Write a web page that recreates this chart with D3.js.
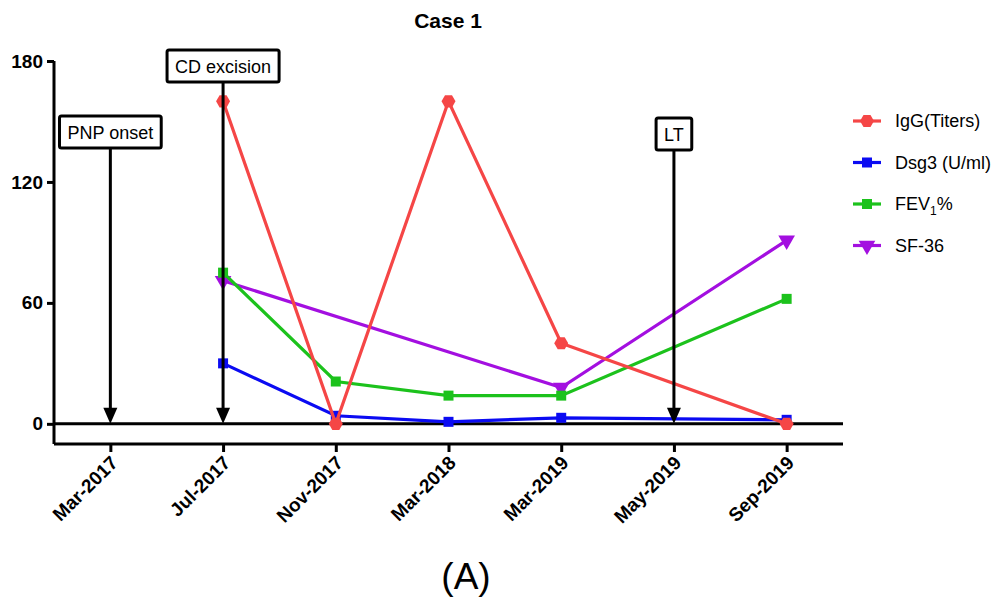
<!DOCTYPE html>
<html>
<head>
<meta charset="utf-8">
<script src="https://cdn.jsdelivr.net/npm/d3@7"></script>
<style>
  body { margin: 0; background: #fff; }
  text { font-family: "Liberation Sans", Arial, sans-serif; }
</style>
</head>
<body>
<div id="chart"></div>
<script>
// categories on the x axis
const months = ["Mar-2017", "Jul-2017", "Nov-2017", "Mar-2018", "Mar-2019", "May-2019", "Sep-2019"];
// series values (null = no measurement)
const igg  = [null, 160, 0, 160, 40, null, 0];
const dsg3 = [null, 30, 4, 1, 3, null, 2];
const fev1 = [null, 75, 21, 14, 14, null, 62];
const sf36 = [null, 71, null, null, 18, null, 91];
const yTicks = [0, 60, 120, 180];
// clinical events
const events = [
    { month: "Mar-2017", label: "PNP onset", top: 148 },
    { month: "Jul-2017", label: "CD excision", top: 82 },
    { month: "May-2019", label: "LT", top: 150 }
];

const series = [
    { name: "SF-36", values: sf36, color: "#a30fe0", shape: "tri" },
    { name: "FEV1%", values: fev1, color: "#1cc21c", shape: "square" },
    { name: "Dsg3 (U/ml)", values: dsg3, color: "#0b0bf2", shape: "square" },
    { name: "IgG(Titers)", values: igg, color: "#f54646", shape: "hex" }
];

const width = 995, height = 600;
const svg = d3.select("#chart").append("svg")
    .attr("width", width)
    .attr("height", height);

const x = d3.scalePoint()
    .domain(months)
    .range([54, 843])
    .padding(0.5);

const y = d3.scaleLinear()
    .domain([-10, 180])
    .range([444, 61]);

// title
svg.append("text")
    .attr("x", 448).attr("y", 28)
    .attr("text-anchor", "middle")
    .style("font-weight", "bold")
    .style("font-size", "21px")
    .text("Case 1");

// y axis
const yAxis = svg.append("g")
    .attr("transform", "translate(54,0)")
    .call(d3.axisLeft(y).tickValues(yTicks).tickSize(7).tickPadding(4));
yAxis.select(".domain").attr("stroke-width", 3).attr("d", `M0,${y(180)}V${y(-10)}`);
yAxis.selectAll(".tick line").attr("stroke-width", 3);
yAxis.selectAll(".tick text")
    .style("font-size", "19px")
    .style("font-weight", "bold")
    .style("font-family", "Liberation Sans, Arial, sans-serif");

// x axis
const xAxis = svg.append("g")
    .attr("transform", `translate(0,${y(-10)})`)
    .call(d3.axisBottom(x).tickSize(8).tickSizeOuter(0));
xAxis.select(".domain").attr("stroke-width", 3).attr("d", `M54,0H843`);
xAxis.selectAll(".tick line").attr("stroke-width", 3);
xAxis.selectAll(".tick text")
    .style("font-size", "19px")
    .style("font-weight", "bold")
    .style("font-family", "Liberation Sans, Arial, sans-serif")
    .attr("text-anchor", "end")
    .attr("dy", null)
    .attr("transform", "translate(8,20) rotate(-45)")
    .attr("y", 0).attr("x", 0);

// zero line
svg.append("line")
    .attr("x1", 54).attr("x2", 843)
    .attr("y1", y(0)).attr("y2", y(0))
    .attr("stroke", "#000").attr("stroke-width", 3);

function markerPath(shape) {
    if (shape === "tri") return d3.symbol().type(d3.symbolTriangle).size(120)();
    if (shape === "square") return d3.symbol().type(d3.symbolSquare).size(100)();
    // hexagon
    const r = 7;
    return d3.range(6).map(i => {
        const a = Math.PI / 3 * i;
        return (i ? "L" : "M") + (r * Math.cos(a)).toFixed(2) + "," + (r * Math.sin(a)).toFixed(2);
    }).join("") + "Z";
}

// lines + markers
series.forEach(s => {
    const pts = months.map((m, i) => ({ m, v: s.values[i] })).filter(d => d.v !== null);
    const line = d3.line().x(d => x(d.m)).y(d => y(d.v));
    svg.append("path")
        .datum(pts)
        .attr("fill", "none")
        .attr("stroke", s.color)
        .attr("stroke-width", 3.2)
        .attr("d", line);
    svg.append("g").selectAll("path")
        .data(pts)
        .join("path")
        .attr("d", markerPath(s.shape))
        .attr("fill", s.color)
        .attr("transform", d => `translate(${x(d.m)},${y(d.v)})` + (s.shape === "tri" ? " rotate(180)" : ""));
});

// event arrows with labels
events.forEach(e => {
    const cx = x(e.month);
    const tip = y(0);
    const g = svg.append("g");
    g.append("line")
        .attr("x1", cx).attr("x2", cx)
        .attr("y1", e.top).attr("y2", tip - 12)
        .attr("stroke", "#000").attr("stroke-width", 3);
    g.append("path")
        .attr("d", `M${cx - 7},${tip - 16}L${cx + 7},${tip - 16}L${cx},${tip}Z`)
        .attr("fill", "#000");
    const box = g.append("rect");
    const t = g.append("text")
        .attr("x", cx).attr("y", e.top - 9)
        .attr("text-anchor", "middle")
        .style("font-size", "18px")
        .text(e.label);
    const bb = t.node().getBBox();
    box.attr("x", bb.x - 8).attr("y", e.top - 32)
        .attr("width", bb.width + 16).attr("height", 32)
        .attr("rx", 2)
        .attr("fill", "#fff").attr("stroke", "#000").attr("stroke-width", 3);
});

// legend
const legendItems = series.slice().reverse();
const legend = svg.append("g").attr("transform", "translate(867,121)");
legendItems.forEach((s, i) => {
    const g = legend.append("g").attr("transform", `translate(0,${i * 41.5})`);
    g.append("line")
        .attr("x1", -14).attr("x2", 14)
        .attr("stroke", s.color).attr("stroke-width", 3.2);
    g.append("path")
        .attr("d", markerPath(s.shape))
        .attr("fill", s.color)
        .attr("transform", s.shape === "tri" ? "rotate(180)" : null);
    const t = g.append("text")
        .attr("x", 28).attr("y", 6)
        .style("font-size", "18px");
    if (s.name === "FEV1%") {
        t.append("tspan").text("FEV");
        t.append("tspan").text("1").style("font-size", "12px").attr("dy", 5);
        t.append("tspan").text("%").attr("dy", -5);
    } else {
        t.text(s.name);
    }
});

// panel label
svg.append("text")
    .attr("x", 466).attr("y", 589)
    .attr("text-anchor", "middle")
    .style("font-size", "37px")
    .text("(A)");
</script>
</body>
</html>
